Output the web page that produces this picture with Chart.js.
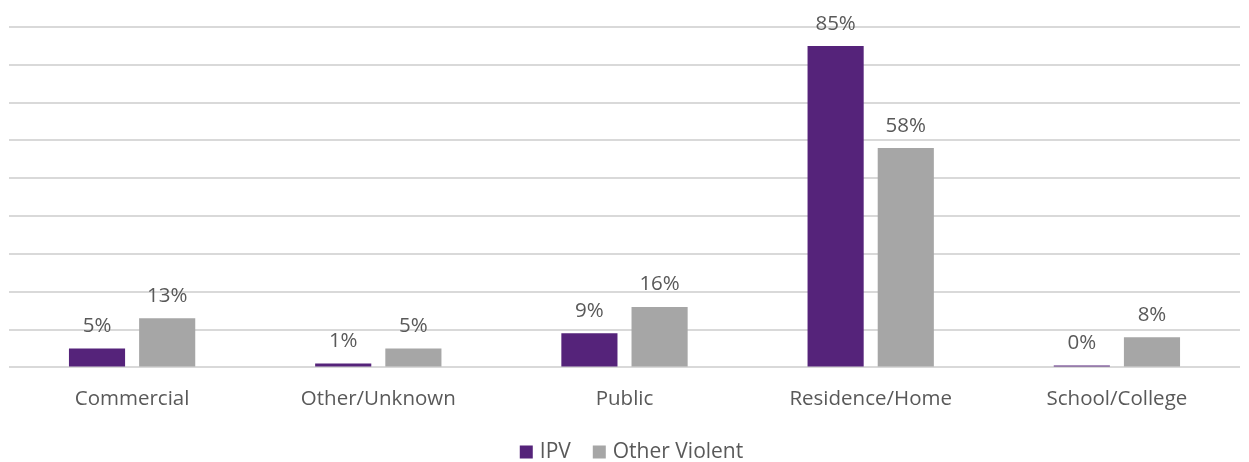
<!DOCTYPE html>
<html>
<head>
<meta charset="utf-8">
<script src="https://cdn.jsdelivr.net/npm/chart.js@4/dist/chart.umd.min.js"></script>
<style>
html,body{margin:0;padding:0;background:#fff;}
#wrap{width:1249px;height:462px;position:relative;}
</style>
</head>
<body>
<div id="wrap"><canvas id="c" width="1249" height="462"></canvas></div>
<script>
const categories = ["Commercial", "Other/Unknown", "Public", "Residence/Home", "School/College"];
const ipvValues = [5, 1, 9, 85, 0];
const otherViolentValues = [13, 5, 16, 58, 8];
const seriesNames = ["IPV", "Other Violent"];
const seriesColors = ['#55237A', '#A6A6A6'];

const FONT = '"Open Sans", sans-serif';
const TEXT = '#595959';

const labelPlugin = {
  id: 'valueLabels',
  afterDatasetsDraw(chart) {
    const ctx = chart.ctx;
    ctx.save();
    ctx.fillStyle = TEXT;
    ctx.font = '20.5px ' + FONT;
    ctx.textAlign = 'center';
    ctx.textBaseline = 'bottom';
    chart.data.datasets.forEach((ds, i) => {
      const meta = chart.getDatasetMeta(i);
      meta.data.forEach((bar, j) => {
        ctx.fillText(ds.data[j] + '%', bar.x, bar.y - 12);
      });
    });
    ctx.restore();
  }
};

const bottomLegend = {
  id: 'bottomLegend',
  afterDraw(chart) {
    const ctx = chart.ctx;
    ctx.save();
    ctx.font = '21px ' + FONT;
    ctx.textBaseline = 'middle';
    const box = 13, gapBox = 7, gapItem = 22;
    const items = chart.data.datasets.map(ds => ({ label: ds.label, color: ds.backgroundColor, w: ctx.measureText(ds.label).width }));
    let total = 0;
    items.forEach((it, i) => { total += box + gapBox + it.w + (i < items.length - 1 ? gapItem : 0); });
    const cx = (chart.chartArea.left + chart.chartArea.right) / 2 + 7;
    const cy = 452;
    let x = cx - total / 2;
    items.forEach(it => {
      ctx.fillStyle = it.color;
      ctx.fillRect(x, cy - box / 2, box, box);
      x += box + gapBox;
      ctx.fillStyle = TEXT;
      ctx.fillText(it.label, x, cy);
      x += it.w + gapItem;
    });
    ctx.restore();
  }
};

new Chart(document.getElementById('c'), {
  type: 'bar',
  data: {
    labels: categories,
    datasets: [
      { label: seriesNames[0], data: ipvValues, backgroundColor: seriesColors[0], minBarLength: 2, categoryPercentage: 0.57, barPercentage: 0.8 },
      { label: seriesNames[1], data: otherViolentValues, backgroundColor: seriesColors[1], categoryPercentage: 0.57, barPercentage: 0.8 }
    ]
  },
  options: {
    responsive: false,
    animation: false,
    layout: { padding: { left: 9, right: 9, top: 27, bottom: 32 } },
    plugins: {
      legend: { display: false },
      tooltip: { enabled: false }
    },
    scales: {
      x: {
        grid: { display: false, drawTicks: false },
        border: { display: false },
        ticks: { color: TEXT, font: { family: FONT, size: 20.5 }, padding: 19 }
      },
      y: {
        min: 0, max: 90,
        ticks: { stepSize: 10, display: false },
        grid: { color: '#D9D9D9', lineWidth: 2, drawTicks: false },
        border: { display: false }
      }
    }
  },
  plugins: [labelPlugin, bottomLegend]
});
</script>
</body>
</html>
